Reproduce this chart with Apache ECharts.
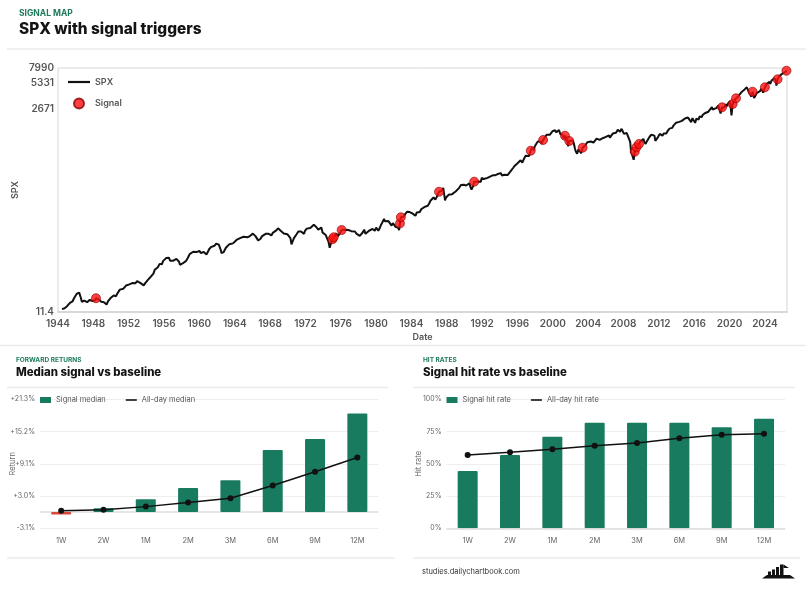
<!DOCTYPE html>
<html>
<head>
<meta charset="utf-8">
<script src="https://cdn.jsdelivr.net/npm/echarts@6/dist/echarts.min.js"></script>
<style>
html,body{margin:0;padding:0;background:#fff;}
#chart{width:806px;height:590px;}
</style>
</head>
<body>
<div id="chart"></div>
<script>
// ---- Top chart data (decimal year, SPX level) ----
const spxYears = [
1944.45,1944.6,1944.75,1944.9,1945.05,1945.2,1945.35,1945.5,1945.65,1945.8,1945.95,1946.1,1946.25,1946.4,1946.5,1946.6,1946.7,1946.85,
1947.0,1947.15,1947.3,1947.45,1947.6,1947.75,1947.9,1948.05,1948.2,1948.45,1948.6,1948.75,1948.9,1949.05,1949.2,1949.35,1949.5,1949.65,
1949.8,1949.95,1950.1,1950.3,1950.45,1950.55,1950.7,1950.85,1951.0,1951.2,1951.4,1951.55,1951.7,1951.85,1952.0,1952.2,1952.4,1952.6,
1952.75,1952.95,1953.1,1953.3,1953.5,1953.7,1953.85,1954.0,1954.2,1954.4,1954.6,1954.8,1954.95,1955.1,1955.3,1955.5,1955.65,1955.75,
1955.9,1956.1,1956.25,1956.4,1956.55,1956.7,1956.85,1957.0,1957.2,1957.4,1957.55,1957.7,1957.8,1957.95,1958.1,1958.3,1958.5,1958.7,
1958.9,1959.1,1959.3,1959.5,1959.7,1959.85,1960.0,1960.15,1960.35,1960.5,1960.65,1960.8,1960.95,1961.1,1961.3,1961.5,1961.7,1961.9,
1962.05,1962.2,1962.35,1962.45,1962.5,1962.6,1962.75,1962.85,1963.0,1963.2,1963.4,1963.6,1963.8,1963.95,1964.2,1964.4,1964.6,1964.8,
1965.0,1965.2,1965.4,1965.5,1965.65,1965.85,1966.05,1966.2,1966.35,1966.5,1966.65,1966.75,1966.9,1967.1,1967.3,1967.5,1967.7,1967.85,
1968.0,1968.15,1968.3,1968.5,1968.7,1968.9,1969.05,1969.2,1969.4,1969.55,1969.75,1969.95,1970.1,1970.3,1970.42,1970.55,1970.7,1970.85,
1971.0,1971.2,1971.35,1971.5,1971.7,1971.85,1971.95,1972.15,1972.35,1972.55,1972.75,1972.95,1973.05,1973.25,1973.45,1973.6,1973.8,1973.95,
1974.1,1974.3,1974.45,1974.6,1974.75,1974.85,1974.95,1975.35,1975.5,1975.65,1975.8,1975.95,1976.3,1976.5,1976.7,1976.85,1977.0,1977.2,
1977.4,1977.6,1977.8,1977.95,1978.15,1978.3,1978.5,1978.65,1978.8,1979.0,1979.2,1979.4,1979.6,1979.75,1979.85,1980.0,1980.15,1980.25,
1980.4,1980.55,1980.7,1980.9,1981.0,1981.2,1981.4,1981.6,1981.75,1981.9,1982.05,1982.2,1982.35,1982.5,1982.6,1982.95,1983.1,1983.3,
1983.5,1983.65,1983.8,1983.95,1984.1,1984.3,1984.45,1984.6,1984.8,1984.95,1985.1,1985.3,1985.5,1985.7,1985.85,1986.0,1986.15,1986.3,
1986.5,1986.6,1986.7,1986.85,1987.0,1987.3,1987.45,1987.6,1987.68,1987.75,1987.8,1987.9,1988.0,1988.2,1988.4,1988.6,1988.8,1989.0,
1989.2,1989.4,1989.6,1989.75,1989.8,1989.95,1990.05,1990.2,1990.4,1990.55,1990.7,1990.8,1990.95,1991.3,1991.5,1991.7,1991.85,1991.95,
1992.2,1992.4,1992.6,1992.8,1992.95,1993.2,1993.45,1993.7,1993.9,1994.1,1994.25,1994.5,1994.7,1994.9,1995.0,1995.25,1995.5,1995.7,
1995.95,1996.15,1996.35,1996.55,1996.7,1996.9,1997.1,1997.3,1997.65,1997.8,1997.85,1997.95,1998.15,1998.3,1998.5,1998.65,1998.72,1998.8,
1999.1,1999.3,1999.5,1999.65,1999.8,1999.95,2000.1,2000.25,2000.4,2000.55,2000.7,2000.85,2000.95,2001.1,2001.2,2001.25,2001.5,2001.65,
2001.72,2002.0,2002.2,2002.35,2002.5,2002.6,2002.75,2002.9,2003.05,2003.2,2003.55,2003.7,2003.9,2004.1,2004.3,2004.5,2004.6,2004.8,
2004.95,2005.15,2005.3,2005.5,2005.7,2005.8,2005.95,2006.15,2006.35,2006.45,2006.6,2006.8,2006.95,2007.15,2007.35,2007.5,2007.6,2007.78,
2007.9,2008.05,2008.2,2008.35,2008.5,2008.65,2008.75,2008.85,2008.95,2009.05,2009.15,2009.6,2009.9,2010.05,2010.25,2010.35,2010.5,2010.65,
2010.8,2010.95,2011.15,2011.3,2011.5,2011.6,2011.75,2011.9,2012.1,2012.25,2012.4,2012.55,2012.7,2012.85,2013.0,2013.2,2013.4,2013.5,
2013.65,2013.8,2013.95,2014.1,2014.3,2014.5,2014.6,2014.8,2014.95,2015.1,2015.3,2015.5,2015.65,2015.8,2015.95,2016.1,2016.25,2016.45,
2016.5,2016.6,2016.85,2016.95,2017.2,2017.4,2017.6,2017.8,2018.0,2018.08,2018.3,2018.5,2018.72,2018.85,2018.98,2019.3,2019.4,2019.55,
2019.65,2019.85,2020.05,2020.13,2020.22,2020.5,2020.65,2020.85,2020.95,2021.15,2021.35,2021.55,2021.7,2021.8,2021.95,2022.1,2022.25,2022.45,
2022.65,2022.78,2022.95,2023.1,2023.25,2023.45,2023.6,2023.8,2024.2,2024.3,2024.5,2024.6,2024.75,2024.95,2025.1,2025.25,2025.3,2025.55,
2025.75,2025.9,2026.05,2026.2,2026.3
];
const spxValues = [
12.3,12.0,12.6,13.0,13.4,13.9,14.6,14.4,15.2,16.4,17.2,18.5,18.0,19.2,18.4,16.5,15.0,15.3,
15.5,15.9,14.8,15.2,15.8,15.1,15.3,14.8,15.6,16.9,16.0,15.4,15.0,15.3,14.8,14.2,13.9,15.2,
15.9,16.6,17.2,17.8,18.5,17.4,18.6,19.6,20.8,21.8,21.3,22.4,23.2,22.5,23.8,23.3,24.8,25.3,
24.6,26.2,26.0,24.9,24.3,23.3,24.6,25.8,27.2,28.6,30.2,32.0,35.5,36.5,38.0,41.5,43.5,41.0,
45.0,45.5,48.5,47.0,49.0,45.0,46.5,45.0,44.5,47.5,48.5,44.0,40.5,40.0,42.0,43.0,45.0,49.0,
54.0,55.0,57.5,59.5,57.0,57.8,59.0,55.5,56.5,57.0,55.0,53.5,57.0,61.5,65.0,65.5,67.5,71.5,
68.5,69.5,66.0,59.0,55.5,58.0,57.0,56.5,64.0,66.5,70.5,69.0,72.0,75.0,79.0,80.5,83.0,84.5,
86.0,88.0,85.0,82.5,86.5,91.0,93.5,90.5,87.5,85.0,78.0,74.5,81.0,87.5,91.5,93.0,96.5,93.0,
95.0,89.0,95.5,99.0,102.0,108.0,103.0,101.0,104.0,94.0,96.0,92.0,89.0,83.0,70.0,76.0,83.0,86.0,
92.0,99.0,104.0,99.0,98.0,93.0,101.0,107.0,106.0,109.0,111.0,119.0,116.0,111.0,104.0,106.0,110.0,96.0,
95.0,90.0,86.0,76.0,64.0,70.0,68.0,89.0,94.0,87.0,90.0,96.0,101.0,104.0,106.0,103.0,106.0,100.0,
98.0,99.0,93.0,95.0,88.0,92.0,97.0,104.0,93.0,98.0,101.0,99.0,106.0,108.0,101.0,110.0,114.0,101.0,
108.0,118.0,126.0,139.0,130.0,135.0,131.0,125.0,116.0,124.0,118.0,112.0,117.0,109.0,103.0,140.0,147.0,159.0,
168.0,163.0,167.0,164.0,161.0,157.0,151.0,165.0,166.0,167.0,180.0,181.0,192.0,184.0,198.0,210.0,226.0,238.0,
247.0,236.0,234.0,249.0,258.0,292.0,297.0,320.0,333.0,312.0,228.0,245.0,250.0,265.0,262.0,270.0,277.0,290.0,
294.0,320.0,346.0,341.0,352.0,348.0,330.0,340.0,355.0,362.0,322.0,305.0,330.0,380.0,378.0,388.0,376.0,417.0,
405.0,414.0,418.0,410.0,436.0,448.0,447.0,460.0,465.0,475.0,446.0,455.0,468.0,452.0,460.0,505.0,545.0,580.0,
612.0,645.0,670.0,630.0,685.0,755.0,790.0,750.0,940.0,920.0,880.0,970.0,1050.0,1110.0,1150.0,1110.0,1040.0,1070.0,
1240.0,1330.0,1370.0,1330.0,1290.0,1460.0,1390.0,1500.0,1420.0,1480.0,1510.0,1350.0,1320.0,1340.0,1200.0,1150.0,1230.0,1130.0,
980.0,1140.0,1150.0,1080.0,920.0,850.0,800.0,900.0,860.0,810.0,990.0,1010.0,1090.0,1140.0,1110.0,1120.0,1080.0,1130.0,
1200.0,1190.0,1160.0,1210.0,1220.0,1180.0,1250.0,1290.0,1310.0,1230.0,1280.0,1380.0,1420.0,1400.0,1520.0,1530.0,1440.0,1560.0,
1470.0,1360.0,1320.0,1400.0,1280.0,1260.0,1100.0,850.0,890.0,840.0,680.0,990.0,1110.0,1080.0,1190.0,1100.0,1040.0,1120.0,
1190.0,1260.0,1330.0,1360.0,1300.0,1130.0,1130.0,1250.0,1360.0,1410.0,1300.0,1380.0,1450.0,1380.0,1480.0,1570.0,1650.0,1600.0,
1700.0,1760.0,1840.0,1780.0,1880.0,1970.0,1930.0,1870.0,2060.0,2020.0,2110.0,2100.0,1870.0,2080.0,2040.0,1830.0,2050.0,2090.0,
2000.0,2170.0,2140.0,2260.0,2370.0,2390.0,2470.0,2570.0,2800.0,2620.0,2640.0,2720.0,2920.0,2650.0,2350.0,2930.0,2760.0,3020.0,
2850.0,3100.0,3280.0,3390.0,2240.0,3150.0,3480.0,3310.0,3700.0,3900.0,4180.0,4380.0,4500.0,4300.0,4760.0,4400.0,4600.0,3700.0,
4280.0,3580.0,3850.0,4100.0,3900.0,4300.0,4580.0,4120.0,5200.0,4960.0,5500.0,5200.0,5700.0,5900.0,6100.0,5550.0,4980.0,6250.0,
6600.0,6750.0,6950.0,6800.0,7150.0
];
const signalYears  = [1948.3,1975.06,1975.2,1976.1,1982.7,1982.8,1987.12,1991.1,1997.5,1998.9,2001.37,2001.86,2003.37,2009.27,2009.46,2009.75,2019.15,2020.35,2020.73,2022.6,2024.0,2025.43,2026.44];
const signalValues = [16.5,80.3,84.8,103,123,145,288,377,867,1156,1297,1125,940,844,950,1038,2781,3039,3541,4228,4758,5897,7430];
const yearTicks = [1944,1948,1952,1956,1960,1964,1968,1972,1976,1980,1984,1988,1992,1996,2000,2004,2008,2012,2016,2020,2024];
const spxTicks = [11.4,2671,5331,7990];

// ---- Bottom charts ----
const horizons = ['1W','2W','1M','2M','3M','6M','9M','12M'];
const signalMedian = [-0.5,0.7,2.4,4.5,6.0,11.7,13.8,18.6];
const allDayMedian = [0.2,0.4,1.0,1.8,2.6,5.0,7.6,10.3];
const returnTicks = [-3.1,3.0,9.1,15.2,21.3];
const signalHitRate = [44.4,56.8,71.0,81.9,81.9,81.9,78.3,85.0];
const allDayHitRate = [56.8,58.9,61.2,64.0,66.1,69.8,72.6,73.3];

// build
const signalPts = signalYears.map((y,i)=>[y,signalValues[i]]);
const spxPts = spxYears.map((y,i)=>[y,spxValues[i]]).concat(signalPts).sort((a,b)=>a[0]-b[0]);

const GREEN = '#187b60';
const FONT = 'Inter, "Noto Sans", sans-serif';
const chart = echarts.init(document.getElementById('chart'), null, {renderer:'canvas'});

function nearestLabel(v, list){
  let best = list[0];
  list.forEach(t=>{ if (Math.abs(t-v) < Math.abs(best-v)) best = t; });
  return best;
}
function hline(x1,x2,y,color,w){
  return {type:'line', silent:true, shape:{x1:x1,y1:y,x2:x2,y2:y}, style:{stroke:color||'#ebebeb', lineWidth:w||1.5}};
}
function txt(x,y,text,font,fill){
  return {type:'text', silent:true, x:x, y:y, style:{text:text, font:font, fill:fill, verticalAlign:'middle', align:'left'}};
}
const LINE_ICON = 'path://M0,0h11v1.6h-11z';

const option = {
  animation:false,
  backgroundColor:'#fff',
  textStyle:{fontFamily:FONT},
  grid:[
    {left:58, right:19, top:68, height:244, show:true, borderColor:'#d6d6d6', borderWidth:1, backgroundColor:'transparent', outerBoundsMode:'none', containLabel:false},
    {left:40, width:338.5, top:399.3, height:129, outerBoundsMode:'none', containLabel:false},
    {left:446.5, width:338.7, top:399.3, height:129, outerBoundsMode:'none', containLabel:false}
  ],
  legend:[
    {orient:'vertical', left:68, top:77.5, padding:0, itemWidth:22, itemHeight:10, itemGap:11,
      data:[{name:'SPX', icon:'path://M0,0h22v2.2h-22z'},{name:'Signal'}],
      textStyle:{color:'#555', fontSize:9, fontWeight:600, fontFamily:FONT}},
    {left:40, top:396, padding:0, itemWidth:11, itemHeight:6, itemGap:20,
      data:[{name:'Signal median', icon:'rect'},{name:'All-day median', icon:LINE_ICON}],
      textStyle:{color:'#555', fontSize:7.5, fontFamily:FONT}},
    {left:446.5, top:396, padding:0, itemWidth:11, itemHeight:6, itemGap:20,
      data:[{name:'Signal hit rate', icon:'rect'},{name:'All-day hit rate', icon:LINE_ICON}],
      textStyle:{color:'#555', fontSize:7.5, fontFamily:FONT}}
  ],
  xAxis:[
    {type:'value', gridIndex:0, min:1944, max:2026.5,
      axisLine:{show:true, lineStyle:{color:'#d8d8d8', width:2}}, axisTick:{show:false}, splitLine:{show:false},
      axisLabel:{customValues:yearTicks, formatter:v=>String(Math.round(v)), color:'#555', fontSize:10, fontWeight:600, margin:7, fontFamily:FONT},
      name:'Date', nameLocation:'middle', nameGap:21, nameMoveOverlap:false, nameTextStyle:{color:'#555', fontSize:9, fontWeight:600, fontFamily:FONT}},
    {type:'category', gridIndex:1, data:horizons,
      axisLine:{show:false, onZero:false}, axisTick:{show:false},
      axisLabel:{color:'#666', fontSize:7.5, margin:8, fontFamily:FONT}},
    {type:'category', gridIndex:2, data:horizons,
      axisLine:{show:false, onZero:false}, axisTick:{show:false},
      axisLabel:{color:'#666', fontSize:7.5, margin:8, fontFamily:FONT}}
  ],
  yAxis:[
    {type:'log', gridIndex:0, min:11.4, max:7990, logBase:10,
      axisLine:{show:false}, axisTick:{show:false}, splitLine:{show:false},
      axisLabel:{customValues:spxTicks, formatter:v=>String(nearestLabel(v, spxTicks)), color:'#555', fontSize:10, fontWeight:600, margin:4, fontFamily:FONT},
      name:'SPX', nameLocation:'middle', nameGap:38.5, nameMoveOverlap:false, nameRotate:90, nameTextStyle:{color:'#555', fontSize:9, fontWeight:600, fontFamily:FONT}},
    {type:'value', gridIndex:1, min:-3.1, max:21.3,
      axisLine:{show:false}, axisTick:{show:false, customValues:returnTicks},
      splitLine:{show:true, lineStyle:{color:'#efefef', width:1}},
      axisLabel:{customValues:returnTicks, formatter:v=>{const t=nearestLabel(v,returnTicks); return (t>0?'+':'')+t.toFixed(1)+'%';}, color:'#666', fontSize:7, margin:5, fontFamily:FONT},
      name:'Return', nameLocation:'middle', nameGap:23, nameMoveOverlap:false, nameRotate:90, nameTextStyle:{color:'#666', fontSize:7.5, fontFamily:FONT}},
    {type:'value', gridIndex:2, min:0, max:100, interval:25,
      axisLine:{show:false}, axisTick:{show:false},
      splitLine:{show:true, lineStyle:{color:'#efefef', width:1}},
      axisLabel:{formatter:'{value}%', color:'#666', fontSize:7, margin:5, fontFamily:FONT},
      name:'Hit rate', nameLocation:'middle', nameGap:24, nameMoveOverlap:false, nameRotate:90, nameTextStyle:{color:'#666', fontSize:7.5, fontFamily:FONT}}
  ],
  series:[
    {name:'SPX', type:'line', xAxisIndex:0, yAxisIndex:0, data:spxPts, symbol:'none', showSymbol:false, z:2,
      lineStyle:{color:'#111', width:2}, itemStyle:{color:'#111'}},
    {name:'Signal', type:'scatter', xAxisIndex:0, yAxisIndex:0, data:signalPts, symbolSize:9, z:3, clip:false,
      itemStyle:{color:'#ff1010', borderColor:'#8a0000', borderWidth:0.8}},
    {name:'Signal median', type:'bar', xAxisIndex:1, yAxisIndex:1, barWidth:20,
      data:signalMedian.map(v=>v<0?{value:v, itemStyle:{color:'#d9483b'}}:v),
      itemStyle:{color:GREEN, borderRadius:1},
      markLine:{silent:true, symbol:'none', z:1, label:{show:false}, lineStyle:{color:'#dedede', width:1.5, type:'solid'}, data:[{yAxis:0}]}},
    {name:'All-day median', type:'line', xAxisIndex:1, yAxisIndex:1, data:allDayMedian,
      symbol:'circle', symbolSize:6, lineStyle:{color:'#111', width:1.5}, itemStyle:{color:'#111'}, z:5},
    {name:'Signal hit rate', type:'bar', xAxisIndex:2, yAxisIndex:2, barWidth:20, data:signalHitRate,
      itemStyle:{color:GREEN, borderRadius:1},
      markLine:{silent:true, symbol:'none', label:{show:false}, lineStyle:{color:'#dedede', width:1.5, type:'solid'}, data:[{yAxis:0}]}},
    {name:'All-day hit rate', type:'line', xAxisIndex:2, yAxisIndex:2, data:allDayHitRate,
      symbol:'circle', symbolSize:6, lineStyle:{color:'#111', width:1.5}, itemStyle:{color:'#111'}, z:5}
  ],
  graphic:{elements:[
    txt(19,13,'SIGNAL MAP','bold 8.5px '+FONT,'#1d7a5b'),
    txt(19,29,'SPX with signal triggers','800 15.4px '+FONT,'#141414'),
    hline(7,806,49,'#ebebeb',1.5),
    hline(0,806,345.5,'#ebebeb',1.5),
    txt(16,360,'FORWARD RETURNS','bold 6.5px '+FONT,'#1d7a5b'),
    txt(16,373,'Median signal vs baseline','800 11.4px '+FONT,'#141414'),
    hline(7,388,387.5,'#ebebeb',1.5),
    hline(7,395,558,'#ebebeb',1.5),
    txt(423,360,'HIT RATES','bold 6.5px '+FONT,'#1d7a5b'),
    txt(423,373,'Signal hit rate vs baseline','800 11.4px '+FONT,'#141414'),
    hline(413,795,387.5,'#ebebeb',1.5),
    hline(413,800,558,'#ebebeb',1.5),
    txt(422,572,'studies.dailychartbook.com','7.5px '+FONT,'#333'),
    {type:'polygon', silent:true, shape:{points:[[762,578.5],[795,578.5],[790,575],[767,575]]}, style:{fill:'#111'}},
    {type:'rect', silent:true, shape:{x:768,y:571.5,width:3,height:3.5}, style:{fill:'#111'}},
    {type:'rect', silent:true, shape:{x:772,y:569.5,width:3,height:5.5}, style:{fill:'#111'}},
    {type:'rect', silent:true, shape:{x:776,y:567,width:3,height:8}, style:{fill:'#111'}},
    {type:'rect', silent:true, shape:{x:780,y:564.5,width:3.5,height:10.5}, style:{fill:'#111'}},
    {type:'polygon', silent:true, shape:{points:[[783.5,564.5],[789,568],[783.5,568]]}, style:{fill:'#111'}}
  ]}
};
chart.setOption(option);
</script>
</body>
</html>
